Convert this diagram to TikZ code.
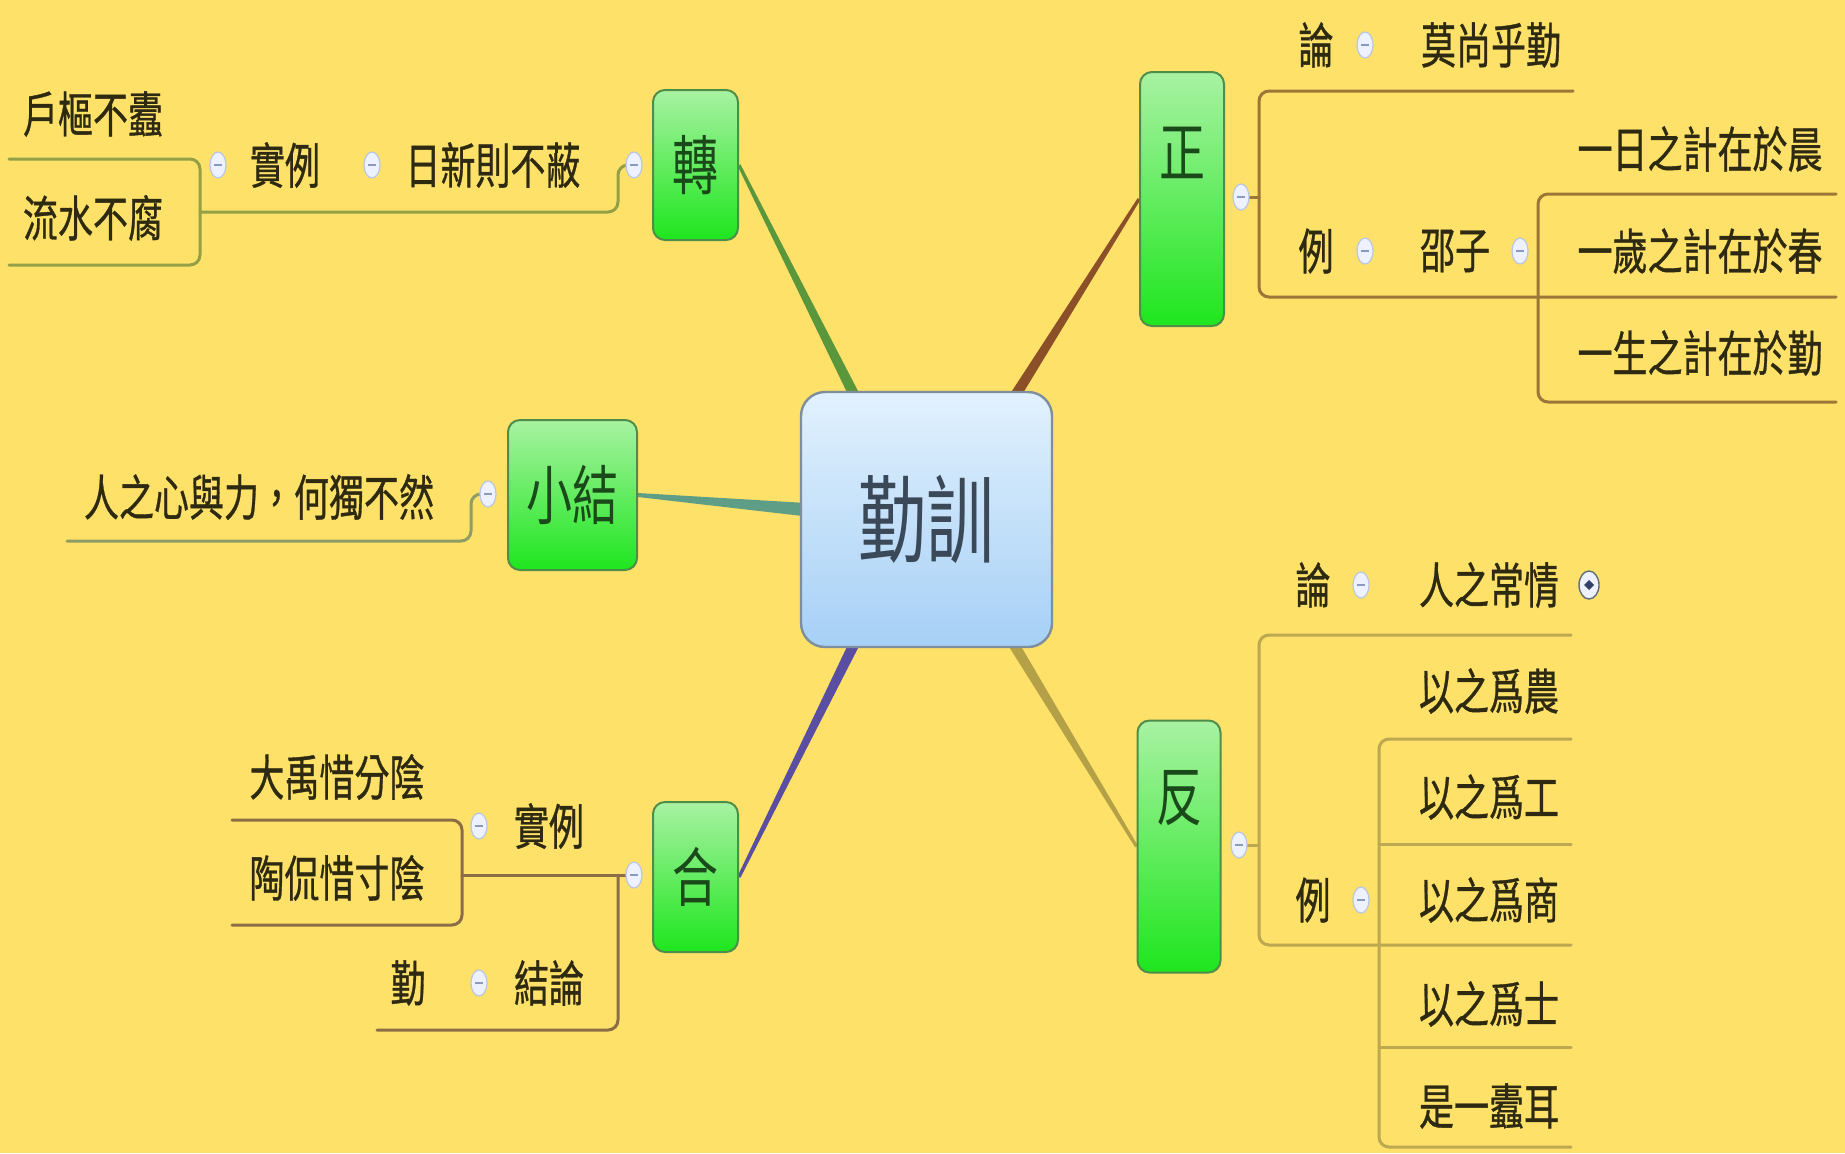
\documentclass[tikz,border=0pt]{standalone}
\usepackage{fontspec}
\setmainfont{Noto Sans CJK TC}
\newfontfamily\medcjk{Noto Sans CJK TC}[FakeBold=0.8]
\usetikzlibrary{calc,shapes.geometric}
\pgfdeclarelayer{bg}
\pgfsetlayers{bg,main}
\definecolor{bgc}{HTML}{FDE169}
\definecolor{txtc}{HTML}{2E2A12}
\definecolor{hubtop}{HTML}{E2F1FD}
\definecolor{hubbot}{HTML}{A6D0F6}
\definecolor{hubline}{HTML}{7E8E9C}
\definecolor{hubtxt}{HTML}{3A4858}
\definecolor{gtop}{HTML}{A8F2A2}
\definecolor{gbot}{HTML}{1EE61E}
\definecolor{gline}{HTML}{4E8E4A}
\definecolor{gtxt}{HTML}{1A4A1A}
\definecolor{btnfill}{HTML}{EEF1FF}
\definecolor{btnline}{HTML}{B8C6E6}
\definecolor{btnminus}{HTML}{8A9AC0}
\definecolor{la}{HTML}{94A046}
\definecolor{lb}{HTML}{8E9C66}
\definecolor{lc}{HTML}{8C6E46}
\definecolor{ld}{HTML}{9A7638}
\definecolor{le}{HTML}{BCA850}
\definecolor{ta}{HTML}{5A963C}
\definecolor{tb}{HTML}{5E9E86}
\definecolor{tc}{HTML}{5A4EA2}
\definecolor{td}{HTML}{8C5028}
\definecolor{te}{HTML}{B4A046}
\newcommand\vst[1]{\scalebox{1}[1.4]{#1}}
\newcommand\taperline[5]{%
  \fill[#1] ($(#2)!#4!90:(#3)$) -- ($(#3)!#5!-90:(#2)$) -- ($(#3)!#5!90:(#2)$) -- ($(#2)!#4!-90:(#3)$) -- cycle;}
\tikzset{
  txt/.style={inner sep=0pt, text=txtc, font=\medcjk\fontsize{17.5}{18}\selectfont},
  hubbox/.style={draw=hubline, line width=1.2pt, rounded corners=12pt, top color=hubtop, bottom color=hubbot,
    minimum width=125.5pt, minimum height=127.5pt, inner sep=0pt, text=hubtxt, font=\fontsize{34}{36}\selectfont},
  greenbox/.style={draw=gline, line width=1pt, rounded corners=6pt, top color=gtop, bottom color=gbot,
    inner sep=0pt, text=gtxt, font=\fontsize{23}{24}\selectfont},
  greentxt/.style={inner sep=0pt, text=gtxt, font=\fontsize{23}{24}\selectfont},
  btn/.style={ellipse, draw=btnline, line width=0.6pt, fill=btnfill, minimum width=8pt, minimum height=13pt, inner sep=0pt,
    path picture={\draw[btnminus, line width=0.7pt] ([xshift=-1.8pt]path picture bounding box.center) -- ([xshift=1.8pt]path picture bounding box.center);}},
  expbtn/.style={ellipse, draw=hubtxt!80, line width=0.7pt, fill=btnfill, minimum width=10pt, minimum height=14pt, inner sep=0pt,
    path picture={\fill[hubtxt!90!blue] (path picture bounding box.center) ++(-2.5pt,0) -- ++(2.5pt,2.5pt) -- ++(2.5pt,-2.5pt) -- ++(-2.5pt,-2.5pt) -- cycle;}},
  ln/.style={line width=1.5pt, rounded corners=5pt, line cap=round}
}
\begin{document}
\begin{tikzpicture}[x=0.5pt,y=-0.5pt]
\useasboundingbox (0,0) rectangle (1845,1153);
\begin{pgfonlayer}{bg}
\fill[bgc] (0,0) rectangle (1845,1153);
\end{pgfonlayer}

% main nodes
\node[hubbox] (hub) at (926.5,519.5) {\vst{勤訓}};
\node[greenbox, minimum width=42.5pt, minimum height=75pt] (zhuan) at (695.5,165) {\vst{轉}};
\node[greenbox, minimum width=64.5pt, minimum height=75pt] (xiaojie) at (572.5,495) {\vst{小結}};
\node[greenbox, minimum width=42.5pt, minimum height=75pt] (he) at (695.5,877) {\vst{合}};
\node[greenbox, minimum width=42pt, minimum height=127pt] (zheng) at (1182,199) {};
\node[greentxt] (zhengt) at (1182,153) {\vst{正}};
\node[greenbox, minimum width=41.5pt, minimum height=126pt] (fan) at (1179,846.5) {};
\node[greentxt] (fant) at (1179,798) {\vst{反}};

% 轉 branch
\node[txt] (ta1) at (493,165) {\vst{日新則不蔽}};
\node[txt] (ta2) at (285,165) {\vst{實例}};
\node[txt] (ta3) at (93,114) {\vst{戶樞不蠹}};
\node[txt] (ta4) at (93,218) {\vst{流水不腐}};
\node[btn] (ba1) at (634,165) {};
\node[btn] (ba2) at (372,165) {};
\node[btn] (ba3) at (218,165) {};

% 小結 branch
\node[txt] (tb1) at (259,497) {\vst{人之心與力，何獨不然}};
\node[btn] (bb1) at (488,494) {};

% 合 branch
\node[txt] (tc1) at (549,826) {\vst{實例}};
\node[txt] (tc2) at (549,983) {\vst{結論}};
\node[txt] (tc3) at (408,983) {\vst{勤}};
\node[txt] (tc4) at (337,777) {\vst{大禹惜分陰}};
\node[txt] (tc5) at (337,878) {\vst{陶侃惜寸陰}};
\node[btn] (bc1) at (634,875) {};
\node[btn] (bc2) at (479,826) {};
\node[btn] (bc3) at (479,983) {};

% 正 branch
\node[txt] (td1) at (1316,45) {\vst{論}};
\node[txt] (td2) at (1491,45) {\vst{莫尚乎勤}};
\node[txt] (td3) at (1316,251) {\vst{例}};
\node[txt] (td4) at (1455,251) {\vst{邵子}};
\node[txt] (td5) at (1700,149) {\vst{一日之計在於晨}};
\node[txt] (td6) at (1700,251) {\vst{一歲之計在於春}};
\node[txt] (td7) at (1700,353) {\vst{一生之計在於勤}};
\node[btn] (bd1) at (1241,197) {};
\node[btn] (bd2) at (1365,45) {};
\node[btn] (bd3) at (1365,251) {};
\node[btn] (bd4) at (1520,251) {};

% 反 branch
\node[txt] (te1) at (1313,585) {\vst{論}};
\node[txt] (te2) at (1489,585) {\vst{人之常情}};
\node[txt] (te3) at (1313,900) {\vst{例}};
\node[txt] (te4) at (1489,691) {\vst{以之爲農}};
\node[txt] (te5) at (1489,797) {\vst{以之爲工}};
\node[txt] (te6) at (1489,900) {\vst{以之爲商}};
\node[txt] (te7) at (1489,1004) {\vst{以之爲士}};
\node[txt] (te8) at (1489,1106) {\vst{是一蠹耳}};
\node[btn] (be1) at (1239,845) {};
\node[btn] (be2) at (1361,585) {};
\node[expbtn] (be3) at (1589,585) {};
\node[btn] (be4) at (1361,900) {};

% hub anchor points
\coordinate (hA) at ($(hub.north)+(-69.5,10)$);
\coordinate (hD) at ($(hub.north)+(85.5,10)$);
\coordinate (hB) at ($(hub.west)+(10,-9.5)$);
\coordinate (hC) at ($(hub.south)+(-69.5,-10)$);
\coordinate (hE) at ($(hub.south)+(83.5,-10)$);

\begin{pgfonlayer}{bg}
\taperline{ta}{hA}{zhuan.east}{2.7pt}{0.8pt}
\taperline{td}{hD}{zheng.west}{2.7pt}{0.8pt}
\taperline{tb}{hB}{xiaojie.east}{3.4pt}{1pt}
\taperline{tc}{hC}{he.east}{2.7pt}{0.8pt}
\taperline{te}{hE}{fan.west}{2.7pt}{0.8pt}

% 轉 lines
\draw[ln, la] (ba1.west) -| (618,212) -- (200,212);
\draw[ln, la] (9,159) -- (200,159) -- (200,265) -- (9,265);
% 小結 lines
\draw[ln, lb] (bb1.west) -| (471,541) -- (67,541);
% 合 lines
\draw[ln, lc] (bc1.west) -- (462,875);
\draw[ln, lc] (618,875) -- (618,1030) -- (377,1030);
\draw[ln, lc] (232,820) -- (462,820) -- (462,925) -- (232,925);
% 正 lines
\draw[ln, ld] (bd1.east) -- (1259,197);
\draw[ln, ld] (1573,91) -- (1259,91) -- (1259,297) -- (1836,297);
\draw[ln, ld] (1836,194) -- (1538,194) -- (1538,402) -- (1836,402);
% 反 lines
\draw[ln, le] (be1.east) -- (1259,845);
\draw[ln, le] (1571,635) -- (1259,635) -- (1259,945) -- (1571,945);
\draw[ln, le] (1571,739) -- (1379,739) -- (1379,1147) -- (1571,1147);
\draw[ln, le] (1379,844) -- (1571,844);
\draw[ln, le] (1379,1047) -- (1571,1047);
\end{pgfonlayer}
\end{tikzpicture}
\end{document}
